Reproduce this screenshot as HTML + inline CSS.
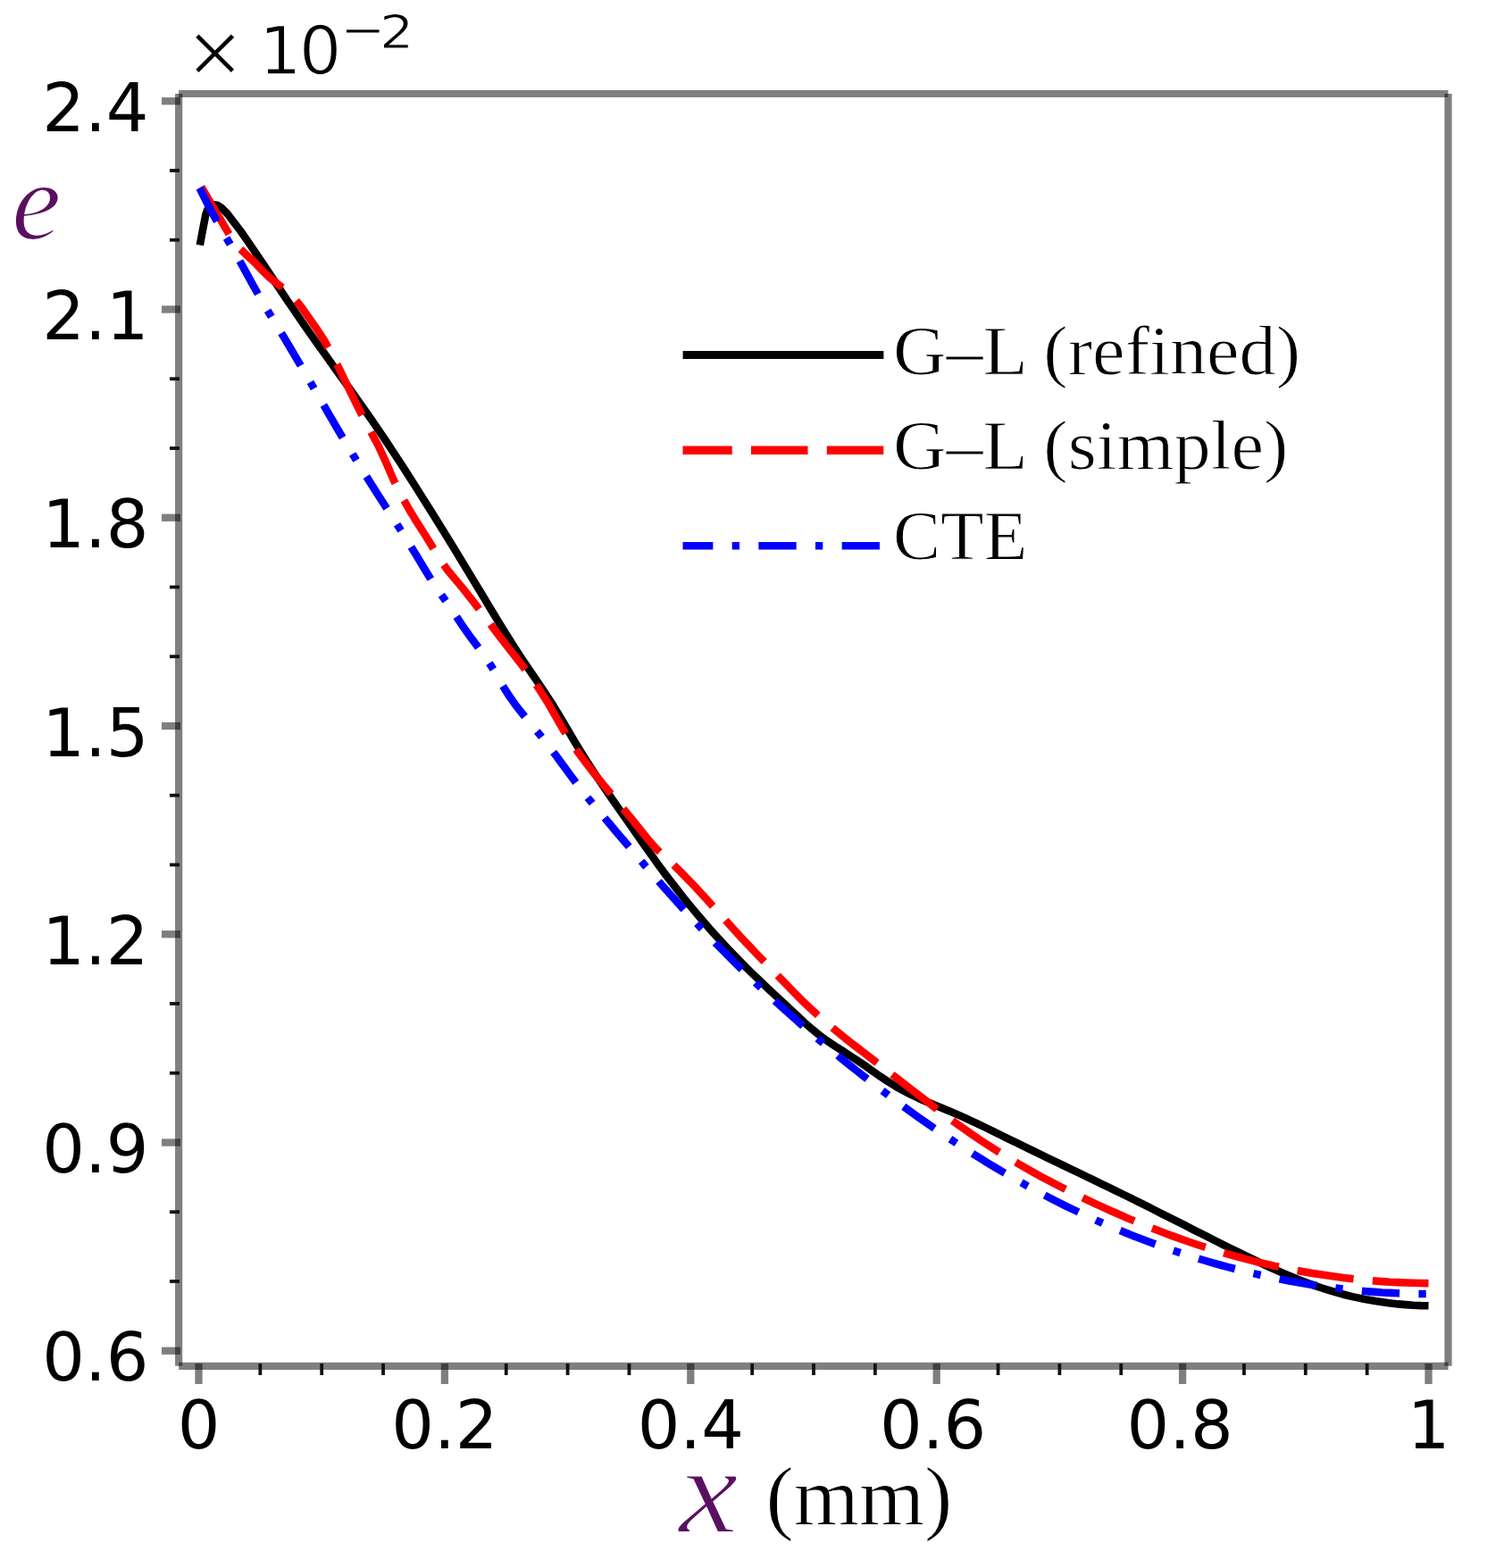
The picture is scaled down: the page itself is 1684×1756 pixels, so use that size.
<!DOCTYPE html>
<html><head><meta charset="utf-8"><title>plot</title>
<style>html,body{margin:0;padding:0;background:#fff;}svg{display:block;}</style>
</head><body>
<svg width="1684" height="1756" viewBox="0 0 1684 1756">
<rect width="1684" height="1756" fill="#fff"/>
<line x1="200.15" y1="105.0" x2="1621.5" y2="105.0" stroke="rgba(0,0,0,0.5)" stroke-width="8.2"/>
<line x1="200.15" y1="1529.8" x2="1621.5" y2="1529.8" stroke="rgba(0,0,0,0.5)" stroke-width="8.2"/>
<line x1="200.15" y1="105.0" x2="200.15" y2="1529.8" stroke="rgba(0,0,0,0.5)" stroke-width="8.2"/>
<line x1="1621.5" y1="105.0" x2="1621.5" y2="1529.8" stroke="rgba(0,0,0,0.5)" stroke-width="8.2"/>
<line x1="181" y1="113.25" x2="202" y2="113.25" stroke="rgba(0,0,0,0.5)" stroke-width="8.3"/>
<line x1="190" y1="191.00" x2="201" y2="191.00" stroke="#111" stroke-width="3.8"/>
<line x1="190" y1="268.75" x2="201" y2="268.75" stroke="#111" stroke-width="3.8"/>
<line x1="181" y1="346.50" x2="202" y2="346.50" stroke="rgba(0,0,0,0.5)" stroke-width="8.3"/>
<line x1="190" y1="424.25" x2="201" y2="424.25" stroke="#111" stroke-width="3.8"/>
<line x1="190" y1="502.00" x2="201" y2="502.00" stroke="#111" stroke-width="3.8"/>
<line x1="181" y1="579.75" x2="202" y2="579.75" stroke="rgba(0,0,0,0.5)" stroke-width="8.3"/>
<line x1="190" y1="657.50" x2="201" y2="657.50" stroke="#111" stroke-width="3.8"/>
<line x1="190" y1="735.25" x2="201" y2="735.25" stroke="#111" stroke-width="3.8"/>
<line x1="181" y1="813.00" x2="202" y2="813.00" stroke="rgba(0,0,0,0.5)" stroke-width="8.3"/>
<line x1="190" y1="890.75" x2="201" y2="890.75" stroke="#111" stroke-width="3.8"/>
<line x1="190" y1="968.50" x2="201" y2="968.50" stroke="#111" stroke-width="3.8"/>
<line x1="181" y1="1046.25" x2="202" y2="1046.25" stroke="rgba(0,0,0,0.5)" stroke-width="8.3"/>
<line x1="190" y1="1124.00" x2="201" y2="1124.00" stroke="#111" stroke-width="3.8"/>
<line x1="190" y1="1201.75" x2="201" y2="1201.75" stroke="#111" stroke-width="3.8"/>
<line x1="181" y1="1279.50" x2="202" y2="1279.50" stroke="rgba(0,0,0,0.5)" stroke-width="8.3"/>
<line x1="190" y1="1357.25" x2="201" y2="1357.25" stroke="#111" stroke-width="3.8"/>
<line x1="190" y1="1435.00" x2="201" y2="1435.00" stroke="#111" stroke-width="3.8"/>
<line x1="181" y1="1512.75" x2="202" y2="1512.75" stroke="rgba(0,0,0,0.5)" stroke-width="8.3"/>
<line x1="222.50" y1="1527" x2="222.50" y2="1550" stroke="rgba(0,0,0,0.5)" stroke-width="8.3"/>
<line x1="291.35" y1="1527" x2="291.35" y2="1540" stroke="#111" stroke-width="3.8"/>
<line x1="360.20" y1="1527" x2="360.20" y2="1540" stroke="#111" stroke-width="3.8"/>
<line x1="429.05" y1="1527" x2="429.05" y2="1540" stroke="#111" stroke-width="3.8"/>
<line x1="497.90" y1="1527" x2="497.90" y2="1550" stroke="rgba(0,0,0,0.5)" stroke-width="8.3"/>
<line x1="566.75" y1="1527" x2="566.75" y2="1540" stroke="#111" stroke-width="3.8"/>
<line x1="635.60" y1="1527" x2="635.60" y2="1540" stroke="#111" stroke-width="3.8"/>
<line x1="704.45" y1="1527" x2="704.45" y2="1540" stroke="#111" stroke-width="3.8"/>
<line x1="773.30" y1="1527" x2="773.30" y2="1550" stroke="rgba(0,0,0,0.5)" stroke-width="8.3"/>
<line x1="842.15" y1="1527" x2="842.15" y2="1540" stroke="#111" stroke-width="3.8"/>
<line x1="911.00" y1="1527" x2="911.00" y2="1540" stroke="#111" stroke-width="3.8"/>
<line x1="979.85" y1="1527" x2="979.85" y2="1540" stroke="#111" stroke-width="3.8"/>
<line x1="1048.70" y1="1527" x2="1048.70" y2="1550" stroke="rgba(0,0,0,0.5)" stroke-width="8.3"/>
<line x1="1117.55" y1="1527" x2="1117.55" y2="1540" stroke="#111" stroke-width="3.8"/>
<line x1="1186.40" y1="1527" x2="1186.40" y2="1540" stroke="#111" stroke-width="3.8"/>
<line x1="1255.25" y1="1527" x2="1255.25" y2="1540" stroke="#111" stroke-width="3.8"/>
<line x1="1324.10" y1="1527" x2="1324.10" y2="1550" stroke="rgba(0,0,0,0.5)" stroke-width="8.3"/>
<line x1="1392.95" y1="1527" x2="1392.95" y2="1540" stroke="#111" stroke-width="3.8"/>
<line x1="1461.80" y1="1527" x2="1461.80" y2="1540" stroke="#111" stroke-width="3.8"/>
<line x1="1530.65" y1="1527" x2="1530.65" y2="1540" stroke="#111" stroke-width="3.8"/>
<line x1="1599.50" y1="1527" x2="1599.50" y2="1550" stroke="rgba(0,0,0,0.5)" stroke-width="8.3"/>
<path d="M223.8,274.5 L227.0,257.5 L230.3,240.5 L232.3,234.8 L235.0,231.3 L239.0,229.4 L243.5,229.7 L248.0,232.8 L252.0,236.8 L255.5,240.5 L260.7,247.3 L269.2,258.5 L277.7,270.6 L286.2,283.1 L294.8,295.8 L303.3,308.7 L311.8,321.5 L320.3,334.3 L328.9,346.9 L337.4,359.4 L345.9,371.6 L354.5,383.7 L363.0,395.6 L371.5,407.5 L380.0,419.4 L388.6,431.2 L397.1,443.2 L405.6,455.2 L414.2,467.5 L422.7,479.9 L431.2,492.5 L439.7,505.4 L448.3,518.4 L456.8,531.6 L465.3,545.0 L473.8,558.5 L482.4,572.1 L490.9,585.8 L499.4,599.6 L508.0,613.5 L516.5,627.4 L525.0,641.4 L533.5,655.5 L542.1,669.7 L550.6,684.0 L559.1,698.0 L567.7,711.8 L576.2,725.2 L584.7,738.3 L593.2,751.0 L601.8,763.5 L610.3,776.1 L618.8,789.2 L627.3,803.2 L635.9,817.8 L644.4,832.2 L652.9,846.1 L661.5,859.5 L670.0,872.4 L678.5,884.9 L687.0,897.3 L695.6,909.4 L704.1,921.6 L712.6,933.8 L721.1,946.0 L729.7,958.1 L738.2,969.9 L746.7,981.4 L755.3,992.5 L763.8,1003.3 L772.3,1013.9 L780.8,1024.1 L789.4,1034.1 L797.9,1043.8 L806.4,1053.2 L815.0,1062.4 L823.5,1071.3 L832.0,1080.0 L840.5,1088.5 L849.1,1096.7 L857.6,1104.8 L866.1,1112.8 L874.6,1120.7 L883.2,1128.6 L891.7,1136.6 L900.2,1144.6 L908.8,1152.2 L917.3,1159.1 L925.8,1165.4 L934.3,1171.1 L942.9,1176.5 L951.4,1182.0 L959.9,1187.6 L968.5,1193.4 L977.0,1199.4 L985.5,1205.4 L994.0,1211.1 L1002.6,1216.4 L1011.1,1221.3 L1019.6,1225.7 L1028.1,1229.7 L1036.7,1233.5 L1045.2,1237.0 L1053.7,1240.5 L1062.3,1244.0 L1070.8,1247.6 L1079.3,1251.4 L1087.8,1255.3 L1096.4,1259.4 L1104.9,1263.5 L1113.4,1267.7 L1122.0,1271.9 L1130.5,1276.1 L1139.0,1280.2 L1147.5,1284.4 L1156.1,1288.5 L1164.6,1292.6 L1173.1,1296.8 L1181.6,1300.9 L1190.2,1305.0 L1198.7,1309.1 L1207.2,1313.2 L1215.8,1317.3 L1224.3,1321.4 L1232.8,1325.6 L1241.3,1329.7 L1249.9,1333.9 L1258.4,1338.0 L1266.9,1342.2 L1275.4,1346.4 L1284.0,1350.7 L1292.5,1355.0 L1301.0,1359.3 L1309.6,1363.6 L1318.1,1367.9 L1326.6,1372.2 L1335.1,1376.6 L1343.7,1380.9 L1352.2,1385.2 L1360.7,1389.5 L1369.3,1393.8 L1377.8,1398.0 L1386.3,1402.2 L1394.8,1406.4 L1403.4,1410.5 L1411.9,1414.6 L1420.4,1418.6 L1428.9,1422.4 L1437.5,1426.2 L1446.0,1429.8 L1454.5,1433.2 L1463.1,1436.5 L1471.6,1439.6 L1480.1,1442.5 L1488.6,1445.2 L1497.2,1447.7 L1505.7,1450.0 L1514.2,1452.1 L1522.8,1453.9 L1531.3,1455.6 L1539.8,1457.1 L1548.3,1458.3 L1556.9,1459.4 L1565.4,1460.4 L1573.9,1461.1 L1582.4,1461.7 L1591.0,1462.1 L1599.5,1462.3" fill="none" stroke="#000" stroke-width="8.6" stroke-linejoin="round"/>
<path d="M225.3,209.3 L237.9,230.6 L250.4,251.9 L259.1,266.6 L267.7,277.4 L276.4,285.8 L285.0,293.8 L293.7,303.0 L302.3,311.2 L311.0,318.1 L319.6,324.8 L328.3,332.7 L336.9,343.1 L345.6,355.4 L354.2,367.7 L362.9,381.0 L371.5,396.6 L380.2,413.8 L388.8,431.7 L397.5,449.4 L406.1,466.6 L414.8,482.9 L423.4,498.7 L432.0,517.4 L440.7,537.4 L449.3,555.0 L458.0,570.3 L466.6,584.4 L475.3,598.0 L483.9,612.1 L492.6,626.4 L501.2,638.6 L509.9,648.9 L518.5,659.3 L527.2,670.2 L535.8,681.4 L544.5,692.9 L553.1,704.4 L561.8,715.8 L570.4,727.0 L579.1,738.0 L587.7,749.2 L596.4,760.9 L605.0,773.6 L613.7,787.5 L622.3,802.6 L630.9,817.5 L639.6,831.2 L648.2,843.7 L656.9,855.4 L665.5,866.5 L674.2,877.2 L682.8,887.6 L691.5,898.0 L700.1,908.5 L708.8,919.0 L717.4,929.7 L726.1,940.6 L734.7,950.4 L743.4,958.3 L752.0,966.4 L760.7,974.9 L769.3,983.7 L778.0,992.8 L786.6,1002.2 L795.3,1011.7 L803.9,1021.2 L812.6,1030.8 L821.2,1040.3 L829.8,1049.8 L838.5,1059.0 L847.1,1068.1 L855.8,1077.1 L864.4,1086.0 L873.1,1094.9 L881.7,1103.8 L890.4,1112.7 L899.0,1121.3 L907.7,1129.6 L916.3,1137.5 L925.0,1145.1 L933.6,1152.3 L942.3,1159.4 L950.9,1166.3 L959.6,1173.0 L968.2,1179.7 L976.9,1186.3 L985.5,1193.0 L994.2,1199.7 L1002.8,1206.4 L1011.4,1213.1 L1020.1,1219.8 L1028.7,1226.5 L1037.4,1233.2 L1046.0,1239.8 L1054.7,1246.3 L1063.3,1252.7 L1072.0,1259.0 L1080.6,1265.1 L1089.3,1271.1 L1097.9,1277.0 L1106.6,1282.7 L1115.2,1288.2 L1123.9,1293.6 L1132.5,1298.8 L1141.2,1303.9 L1149.8,1308.8 L1158.5,1313.7 L1167.1,1318.4 L1175.8,1323.0 L1184.4,1327.5 L1193.1,1331.9 L1201.7,1336.2 L1210.3,1340.4 L1219.0,1344.6 L1227.6,1348.6 L1236.3,1352.6 L1244.9,1356.5 L1253.6,1360.3 L1262.2,1364.1 L1270.9,1367.7 L1279.5,1371.3 L1288.2,1374.7 L1296.8,1378.1 L1305.5,1381.4 L1314.1,1384.6 L1322.8,1387.7 L1331.4,1390.7 L1340.1,1393.7 L1348.7,1396.5 L1357.4,1399.2 L1366.0,1401.8 L1374.7,1404.4 L1383.3,1406.8 L1392.0,1409.2 L1400.6,1411.4 L1409.2,1413.6 L1417.9,1415.6 L1426.5,1417.6 L1435.2,1419.4 L1443.8,1421.2 L1452.5,1422.9 L1461.1,1424.4 L1469.8,1425.9 L1478.4,1427.3 L1487.1,1428.6 L1495.7,1429.8 L1504.4,1430.9 L1513.0,1431.9 L1521.7,1432.9 L1530.3,1433.7 L1539.0,1434.5 L1547.6,1435.1 L1556.3,1435.7 L1564.9,1436.1 L1573.6,1436.5 L1582.2,1436.8 L1590.9,1437.0 L1599.5,1437.1" fill="none" stroke="#f00" stroke-width="8.6" stroke-dasharray="63.5 21.4" stroke-dashoffset="2.12"/>
<path d="M223.5,210.5 L232.2,228.1 L240.8,244.2 L249.5,259.5 L258.1,274.3 L266.8,289.3 L275.4,304.8 L284.1,320.7 L292.7,336.1 L301.4,350.7 L310.0,364.9 L318.7,379.1 L327.3,393.5 L336.0,408.2 L344.7,423.0 L353.3,438.0 L362.0,452.9 L370.6,467.9 L379.3,482.7 L387.9,497.3 L396.6,511.6 L405.2,525.6 L413.9,539.4 L422.5,553.0 L431.2,566.5 L439.9,579.9 L448.5,593.5 L457.2,607.3 L465.8,621.3 L474.5,635.7 L483.1,649.9 L491.8,662.7 L500.4,674.9 L509.1,687.5 L517.7,700.6 L526.4,712.9 L535.0,724.3 L543.7,736.1 L552.4,749.7 L561.0,764.9 L569.7,778.8 L578.3,790.9 L587.0,801.8 L595.6,812.2 L604.3,822.6 L612.9,833.5 L621.6,844.9 L630.2,856.6 L638.9,868.5 L647.6,880.1 L656.2,891.1 L664.9,901.6 L673.5,911.9 L682.2,922.1 L690.8,932.4 L699.5,942.6 L708.1,952.9 L716.8,963.0 L725.4,973.1 L734.1,983.1 L742.7,993.0 L751.4,1002.7 L760.1,1012.3 L768.7,1021.8 L777.4,1031.1 L786.0,1040.3 L794.7,1049.4 L803.3,1058.3 L812.0,1067.1 L820.6,1075.8 L829.3,1084.3 L837.9,1092.8 L846.6,1101.1 L855.2,1109.2 L863.9,1117.3 L872.6,1125.3 L881.2,1133.1 L889.9,1140.8 L898.5,1148.5 L907.2,1156.0 L915.8,1163.4 L924.5,1170.7 L933.1,1177.9 L941.8,1185.1 L950.4,1192.1 L959.1,1199.0 L967.8,1205.9 L976.4,1212.6 L985.1,1219.3 L993.7,1225.8 L1002.4,1232.3 L1011.0,1238.7 L1019.7,1245.0 L1028.3,1251.2 L1037.0,1257.3 L1045.6,1263.3 L1054.3,1269.2 L1062.9,1275.0 L1071.6,1280.7 L1080.3,1286.3 L1088.9,1291.8 L1097.6,1297.2 L1106.2,1302.6 L1114.9,1307.8 L1123.5,1312.9 L1132.2,1317.9 L1140.8,1322.8 L1149.5,1327.7 L1158.1,1332.4 L1166.8,1337.0 L1175.4,1341.5 L1184.1,1346.0 L1192.8,1350.3 L1201.4,1354.5 L1210.1,1358.6 L1218.7,1362.6 L1227.4,1366.6 L1236.0,1370.4 L1244.7,1374.1 L1253.3,1377.7 L1262.0,1381.3 L1270.6,1384.7 L1279.3,1388.1 L1288.0,1391.3 L1296.6,1394.5 L1305.3,1397.6 L1313.9,1400.5 L1322.6,1403.4 L1331.2,1406.2 L1339.9,1408.9 L1348.5,1411.5 L1357.2,1414.1 L1365.8,1416.5 L1374.5,1418.9 L1383.1,1421.1 L1391.8,1423.3 L1400.5,1425.4 L1409.1,1427.4 L1417.8,1429.3 L1426.4,1431.1 L1435.1,1432.9 L1443.7,1434.5 L1452.4,1436.1 L1461.0,1437.6 L1469.7,1439.0 L1478.3,1440.3 L1487.0,1441.5 L1495.7,1442.6 L1504.3,1443.6 L1513.0,1444.6 L1521.6,1445.4 L1530.3,1446.2 L1538.9,1446.9 L1547.6,1447.5 L1556.2,1447.9 L1564.9,1448.3 L1573.5,1448.6 L1582.2,1448.9 L1590.8,1449.0 L1599.5,1449.0" fill="none" stroke="#00f" stroke-width="8.6" stroke-dasharray="42.3 21.35 8.3 21.4" stroke-dashoffset="0.05"/>
<line x1="764.6" y1="397.6" x2="989.4" y2="397.6" stroke="#000" stroke-width="9"/>
<line x1="764.5" y1="504.2" x2="989.3" y2="504.2" stroke="#f00" stroke-width="9.4" stroke-dasharray="63.5 21.3" stroke-dashoffset="8.3"/>
<line x1="764.5" y1="611.2" x2="989.3" y2="611.2" stroke="#00f" stroke-width="8.6" stroke-dasharray="42.3 21.35 8.3 21.35" stroke-dashoffset="8.45"/>
<text x="166.5" y="146.8" text-anchor="end" style="font-family:'DejaVu Sans',sans-serif;font-size:75px">2.4</text>
<text x="166.5" y="380.0" text-anchor="end" style="font-family:'DejaVu Sans',sans-serif;font-size:75px">2.1</text>
<text x="166.5" y="613.2" text-anchor="end" style="font-family:'DejaVu Sans',sans-serif;font-size:75px">1.8</text>
<text x="166.5" y="846.5" text-anchor="end" style="font-family:'DejaVu Sans',sans-serif;font-size:75px">1.5</text>
<text x="166.5" y="1079.8" text-anchor="end" style="font-family:'DejaVu Sans',sans-serif;font-size:75px">1.2</text>
<text x="166.5" y="1313.0" text-anchor="end" style="font-family:'DejaVu Sans',sans-serif;font-size:75px">0.9</text>
<text x="166.5" y="1546.2" text-anchor="end" style="font-family:'DejaVu Sans',sans-serif;font-size:75px">0.6</text>
<text x="222.5" y="1622" text-anchor="middle" style="font-family:'DejaVu Sans',sans-serif;font-size:75px">0</text>
<text x="497.9" y="1622" text-anchor="middle" style="font-family:'DejaVu Sans',sans-serif;font-size:75px">0.2</text>
<text x="773.3" y="1622" text-anchor="middle" style="font-family:'DejaVu Sans',sans-serif;font-size:75px">0.4</text>
<text x="1044.7" y="1622" text-anchor="middle" style="font-family:'DejaVu Sans',sans-serif;font-size:75px">0.6</text>
<text x="1321.1" y="1622" text-anchor="middle" style="font-family:'DejaVu Sans',sans-serif;font-size:75px">0.8</text>
<text x="1599.5" y="1622" text-anchor="middle" style="font-family:'DejaVu Sans',sans-serif;font-size:75px">1</text>
<text x="206.7" y="85" style="font-family:'DejaVu Sans',sans-serif;font-size:81px;stroke:#fff;stroke-width:2">&#215;</text>
<text x="290" y="83" style="font-family:'DejaVu Sans',sans-serif;font-size:75px;stroke:#fff;stroke-width:1.4">1</text>
<text x="334.7" y="83" style="font-family:'DejaVu Sans',sans-serif;font-size:75px;stroke:#fff;stroke-width:1.4">0</text>
<g transform="translate(381,50.5) scale(1.16,1)"><text x="0" y="0" style="font-family:'DejaVu Sans',sans-serif;font-size:52px;stroke:#fff;stroke-width:1">&#8722;</text></g>
<g transform="translate(425,54) scale(1.16,1)"><text x="0" y="0" style="font-family:'DejaVu Sans',sans-serif;font-size:52px;stroke:#fff;stroke-width:1">2</text></g>
<text x="13" y="268" style="font-family:'Liberation Serif',serif;font-style:italic;font-size:125px;fill:#5a1060;stroke:#fff;stroke-width:2">e</text>
<g transform="translate(760,1716) scale(1.2,1.1)"><text x="0" y="0" style="font-family:'Liberation Serif',serif;font-style:italic;font-size:125px;fill:#5a1060;stroke:#fff;stroke-width:2">x</text></g>
<text x="857.5" y="1707" style="font-family:'Liberation Serif',serif;font-size:94px;stroke:#fff;stroke-width:1">(mm)</text>
<g transform="translate(1000,419) scale(1.055,1)"><text x="0" y="0" style="font-family:'Liberation Serif',serif;font-size:78px;stroke:#fff;stroke-width:1">G&#8211;L (refined)</text></g>
<g transform="translate(1000,525) scale(1.055,1)"><text x="0" y="0" style="font-family:'Liberation Serif',serif;font-size:78px;stroke:#fff;stroke-width:1">G&#8211;L (simple)</text></g>
<g transform="translate(1000,626) scale(1.02,1)"><text x="0" y="0" style="font-family:'Liberation Serif',serif;font-size:78px;stroke:#fff;stroke-width:1">CTE</text></g>
</svg>
</body></html>
